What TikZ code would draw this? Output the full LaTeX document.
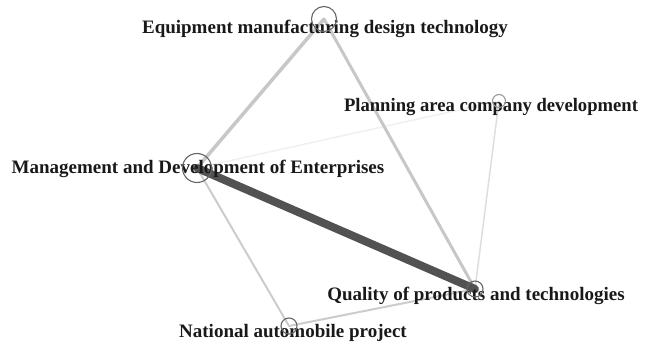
\documentclass[tikz,border=0pt]{standalone}
\usepackage{fontspec}
\setmainfont{Liberation Serif}
\begin{document}
\begin{tikzpicture}[x=1pt,y=1pt,
  hub/.style={circle,draw=black!60,line width=1.1pt,inner sep=0pt},
  lbl/.style={font=\fontsize{19}{21}\selectfont\bfseries,inner sep=0pt,text=black!90},
  link/.style={line cap=round}]
\useasboundingbox (0,0) rectangle (649,343);
% node centres
\coordinate (pEq) at (324,324);
\coordinate (pMg) at (197,175);
\coordinate (pQu) at (475,54);
\coordinate (pNa) at (289,17);
\coordinate (pPl) at (499,242);
% links, weighted by strength
\draw[link,line width=1.5pt,black!6] (pMg) -- (pPl);
\draw[link,line width=1.5pt,black!13] (pPl) -- (pQu);
\draw[link,line width=2pt,black!20] (pMg) -- (pNa);
\draw[link,line width=2pt,black!20] (pNa) -- (pQu);
\draw[link,line width=3pt,black!22] (pEq) -- (pQu);
\draw[link,line width=3.5pt,black!22] (pMg) -- (pEq);
\draw[link,line width=8pt,black!68] (pMg) -- (pQu);
% labels
\node[lbl] (tEq) at (325,314) {Equipment manufacturing design technology};
\node[lbl,xscale=0.98] (tPl) at (491,236) {Planning area company development};
\node[lbl] (tMg) at (198,174) {Management and Development of Enterprises};
\node[lbl] (tQu) at (476,47) {Quality of products and technologies};
\node[lbl] (tNa) at (293,10) {National automobile project};
% node markers
\node[hub,minimum size=25pt] (nEq) at (pEq) {};
\node[hub,minimum size=29pt] (nMg) at (pMg) {};
\node[hub,minimum size=16pt] (nQu) at (pQu) {};
\node[hub,minimum size=16pt] (nNa) at (pNa) {};
\node[hub,minimum size=13pt,draw=black!40] (nPl) at (pPl) {};
\end{tikzpicture}
\end{document}
